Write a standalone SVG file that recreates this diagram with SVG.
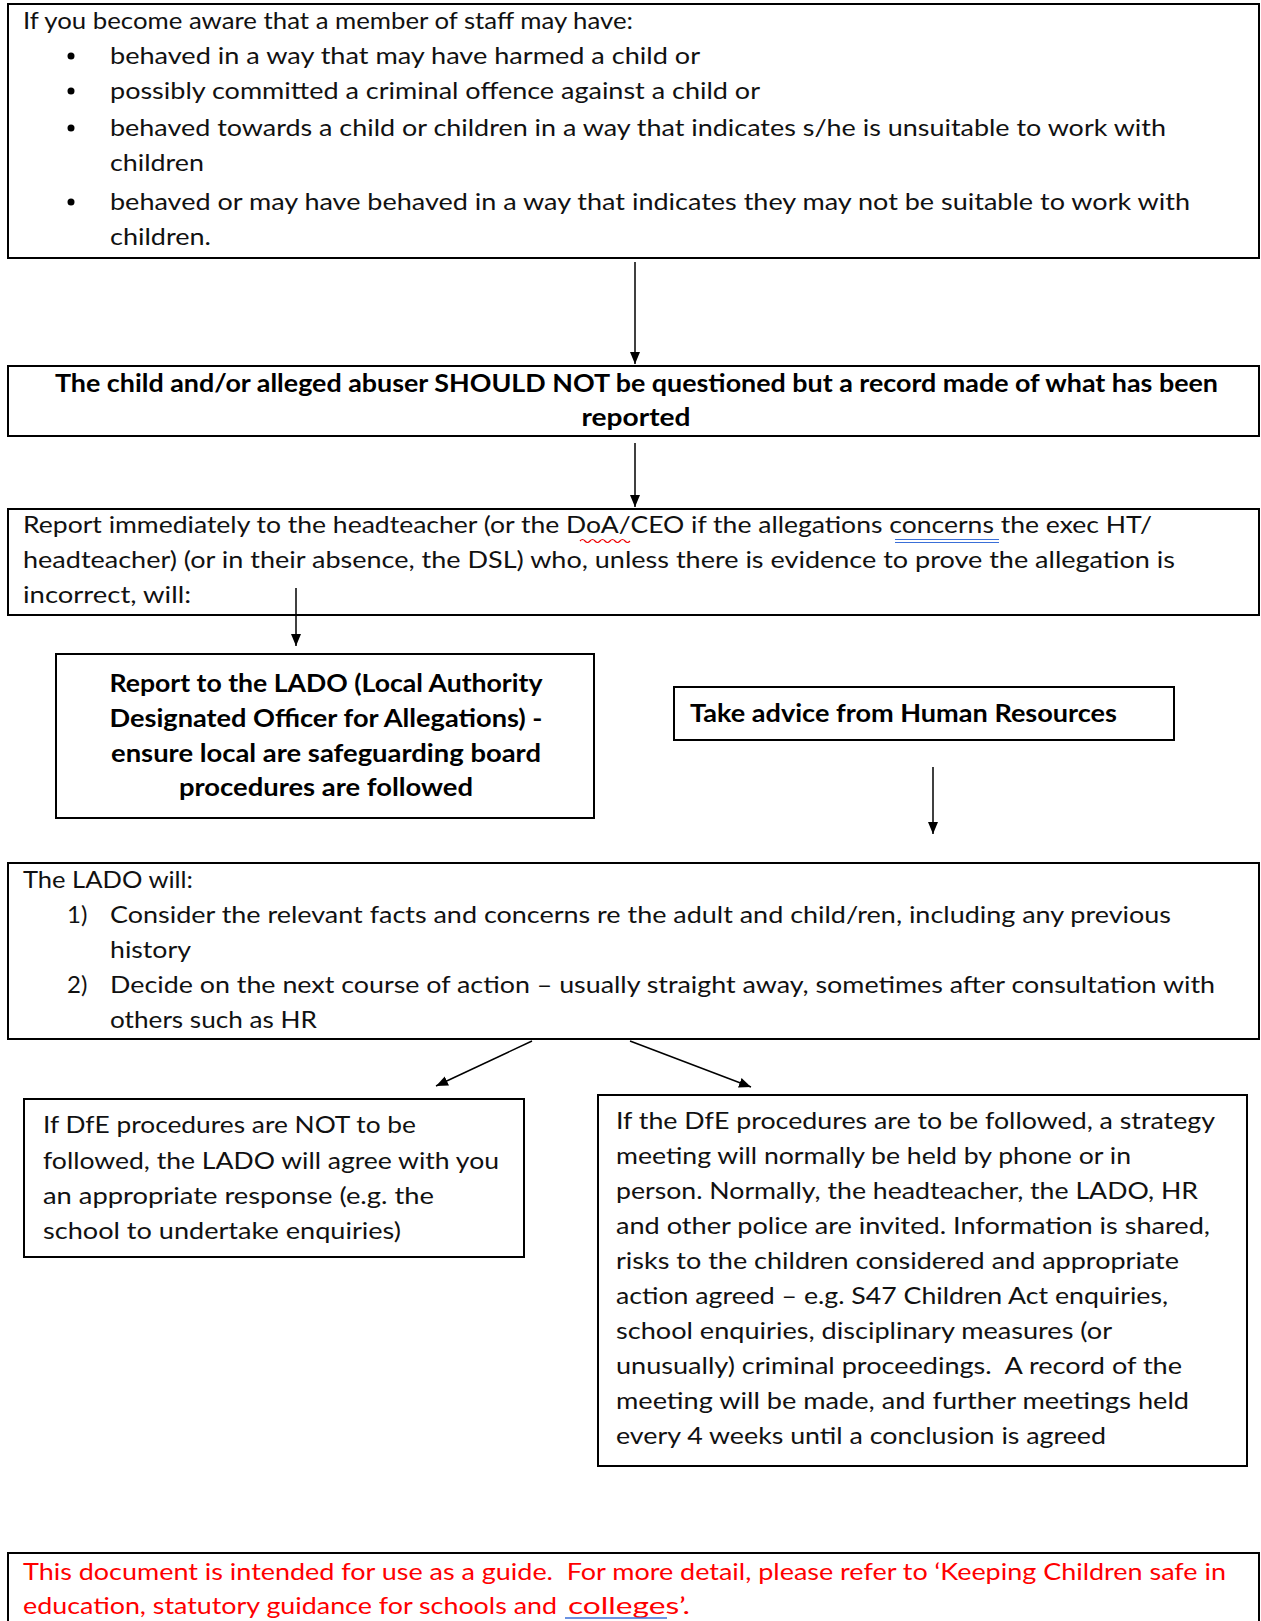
<svg xmlns="http://www.w3.org/2000/svg" width="1261" height="1621" viewBox="0 0 1261 1621">
<style>
.box{fill:#fff;stroke:#000;stroke-width:2}
.t{font-family:Lato,"Liberation Sans",sans-serif;font-size:24px;fill:#111}
.b{font-family:Lato,"Liberation Sans",sans-serif;font-size:25px;font-weight:bold;fill:#000}
.red{font-family:Lato,"Liberation Sans",sans-serif;font-size:24px;fill:#f00}
.c{text-anchor:middle}
.ln{stroke:#000;stroke-width:1.5;fill:none}
</style>
<defs>
<marker id="ah" markerUnits="userSpaceOnUse" markerWidth="12" markerHeight="14" refX="12" refY="5" orient="auto">
<path d="M0,0 L12,5 L0,10 Z" fill="#000"/>
</marker>
</defs>
<rect width="1261" height="1621" fill="#fff"/>

<g id="node-aware">
<rect class="box" x="8" y="4" width="1251" height="254"/>
<text class="t" x="23" y="29" textLength="610" lengthAdjust="spacingAndGlyphs">If you become aware that a member of staff may have:</text>
<circle cx="71" cy="56" r="3.5" fill="#000"/>
<text class="t" x="110" y="64" textLength="590" lengthAdjust="spacingAndGlyphs">behaved in a way that may have harmed a child or</text>
<circle cx="71" cy="91" r="3.5" fill="#000"/>
<text class="t" x="110" y="99" textLength="650" lengthAdjust="spacingAndGlyphs">possibly committed a criminal offence against a child or</text>
<circle cx="71" cy="128" r="3.5" fill="#000"/>
<text class="t" x="110" y="136" textLength="1056" lengthAdjust="spacingAndGlyphs">behaved towards a child or children in a way that indicates s/he is unsuitable to work with</text>
<text class="t" x="110" y="171" textLength="94" lengthAdjust="spacingAndGlyphs">children</text>
<circle cx="71" cy="202" r="3.5" fill="#000"/>
<text class="t" x="110" y="210" textLength="1080" lengthAdjust="spacingAndGlyphs">behaved or may have behaved in a way that indicates they may not be suitable to work with</text>
<text class="t" x="110" y="245" textLength="101" lengthAdjust="spacingAndGlyphs">children.</text>
</g>

<g id="node-noquestion">
<rect class="box" x="8" y="366" width="1251" height="70"/>
<text class="b c" x="636.5" y="392" textLength="1163" lengthAdjust="spacingAndGlyphs">The child and/or alleged abuser SHOULD NOT be questioned but a record made of what has been</text>
<text class="b c" x="636" y="426" textLength="109" lengthAdjust="spacingAndGlyphs">reported</text>
</g>

<g id="node-report">
<rect class="box" x="8" y="509" width="1251" height="106"/>
<text class="t" x="23" y="533" textLength="1129" lengthAdjust="spacingAndGlyphs">Report immediately to the headteacher (or the DoA/CEO if the allegations concerns the exec HT/</text>
<text class="t" x="23" y="568" textLength="1152" lengthAdjust="spacingAndGlyphs">headteacher) (or in their absence, the DSL) who, unless there is evidence to prove the allegation is</text>
<text class="t" x="23" y="603" textLength="168" lengthAdjust="spacingAndGlyphs">incorrect, will:</text>
<path d="M580,541 q2.5,-3 5,0 t5,0 t5,0 t5,0 t5,0 t5,0 t5,0 t5,0 t5,0 t5,0" stroke="#e00" stroke-width="1.2" fill="none"/>
<line x1="895" y1="539.5" x2="999" y2="539.5" stroke="#3a6fd8" stroke-width="1.2"/>
<line x1="895" y1="542.5" x2="999" y2="542.5" stroke="#3a6fd8" stroke-width="1.2"/>
</g>

<g id="node-lado-report">
<rect class="box" x="56" y="654" width="538" height="164"/>
<text class="b c" x="326" y="692" textLength="433" lengthAdjust="spacingAndGlyphs">Report to the LADO (Local Authority</text>
<text class="b c" x="326" y="727" textLength="433" lengthAdjust="spacingAndGlyphs">Designated Officer for Allegations) -</text>
<text class="b c" x="326" y="762" textLength="430" lengthAdjust="spacingAndGlyphs">ensure local are safeguarding board</text>
<text class="b c" x="326" y="796" textLength="294" lengthAdjust="spacingAndGlyphs">procedures are followed</text>
</g>

<g id="node-hr">
<rect class="box" x="674" y="687" width="500" height="53"/>
<text class="b" x="690" y="722" textLength="427" lengthAdjust="spacingAndGlyphs">Take advice from Human Resources</text>
</g>

<g id="node-lado-will">
<rect class="box" x="8" y="863" width="1251" height="176"/>
<text class="t" x="23" y="888" textLength="170" lengthAdjust="spacingAndGlyphs">The LADO will:</text>
<text class="t" x="67" y="923">1)</text>
<text class="t" x="110" y="923" textLength="1061" lengthAdjust="spacingAndGlyphs">Consider the relevant facts and concerns re the adult and child/ren, including any previous</text>
<text class="t" x="110" y="958" textLength="81" lengthAdjust="spacingAndGlyphs">history</text>
<text class="t" x="67" y="993">2)</text>
<text class="t" x="110" y="993" textLength="1105" lengthAdjust="spacingAndGlyphs">Decide on the next course of action – usually straight away, sometimes after consultation with</text>
<text class="t" x="110" y="1028" textLength="207" lengthAdjust="spacingAndGlyphs">others such as HR</text>
</g>

<g id="node-not-followed">
<rect class="box" x="24" y="1099" width="500" height="158"/>
<text class="t" x="43" y="1133" textLength="373" lengthAdjust="spacingAndGlyphs">If DfE procedures are NOT to be</text>
<text class="t" x="43" y="1169" textLength="456" lengthAdjust="spacingAndGlyphs">followed, the LADO will agree with you</text>
<text class="t" x="43" y="1204" textLength="391" lengthAdjust="spacingAndGlyphs">an appropriate response (e.g. the</text>
<text class="t" x="43" y="1239" textLength="358" lengthAdjust="spacingAndGlyphs">school to undertake enquiries)</text>
</g>

<g id="node-followed">
<rect class="box" x="598" y="1095" width="649" height="371"/>
<text class="t" x="616" y="1129" textLength="599" lengthAdjust="spacingAndGlyphs">If the DfE procedures are to be followed, a strategy</text>
<text class="t" x="616" y="1164" textLength="515" lengthAdjust="spacingAndGlyphs">meeting will normally be held by phone or in</text>
<text class="t" x="616" y="1199" textLength="582" lengthAdjust="spacingAndGlyphs">person. Normally, the headteacher, the LADO, HR</text>
<text class="t" x="616" y="1234" textLength="594" lengthAdjust="spacingAndGlyphs">and other police are invited. Information is shared,</text>
<text class="t" x="616" y="1269" textLength="563" lengthAdjust="spacingAndGlyphs">risks to the children considered and appropriate</text>
<text class="t" x="616" y="1304" textLength="552" lengthAdjust="spacingAndGlyphs">action agreed – e.g. S47 Children Act enquiries,</text>
<text class="t" x="616" y="1339" textLength="496" lengthAdjust="spacingAndGlyphs">school enquiries, disciplinary measures (or</text>
<text class="t" x="616" y="1374" textLength="566" lengthAdjust="spacingAndGlyphs" xml:space="preserve">unusually) criminal proceedings.  A record of the</text>
<text class="t" x="616" y="1409" textLength="573" lengthAdjust="spacingAndGlyphs">meeting will be made, and further meetings held</text>
<text class="t" x="616" y="1444" textLength="490" lengthAdjust="spacingAndGlyphs">every 4 weeks until a conclusion is agreed</text>
</g>

<g id="node-note">
<rect class="box" x="8" y="1553" width="1251" height="80"/>
<text class="red" x="23" y="1580" textLength="1203" lengthAdjust="spacingAndGlyphs" xml:space="preserve">This document is intended for use as a guide.  For more detail, please refer to ‘Keeping Children safe in</text>
<text class="red" x="23" y="1614"><tspan textLength="534" lengthAdjust="spacingAndGlyphs">education, statutory guidance for schools and</tspan><tspan x="568" textLength="122" lengthAdjust="spacingAndGlyphs">colleges’.</tspan></text>
<line x1="565" y1="1618" x2="667" y2="1618" stroke="#3a6fd8" stroke-width="1.5"/>
</g>

<g id="connectors">
<line class="ln" x1="635" y1="262" x2="635" y2="364" marker-end="url(#ah)"/>
<line class="ln" x1="635" y1="443" x2="635" y2="507" marker-end="url(#ah)"/>
<line class="ln" x1="296" y1="588" x2="296" y2="646" marker-end="url(#ah)"/>
<line class="ln" x1="933" y1="767" x2="933" y2="834" marker-end="url(#ah)"/>
<line class="ln" x1="532" y1="1041" x2="436" y2="1086" marker-end="url(#ah)"/>
<line class="ln" x1="630" y1="1041" x2="751" y2="1087" marker-end="url(#ah)"/>
</g>
</svg>
